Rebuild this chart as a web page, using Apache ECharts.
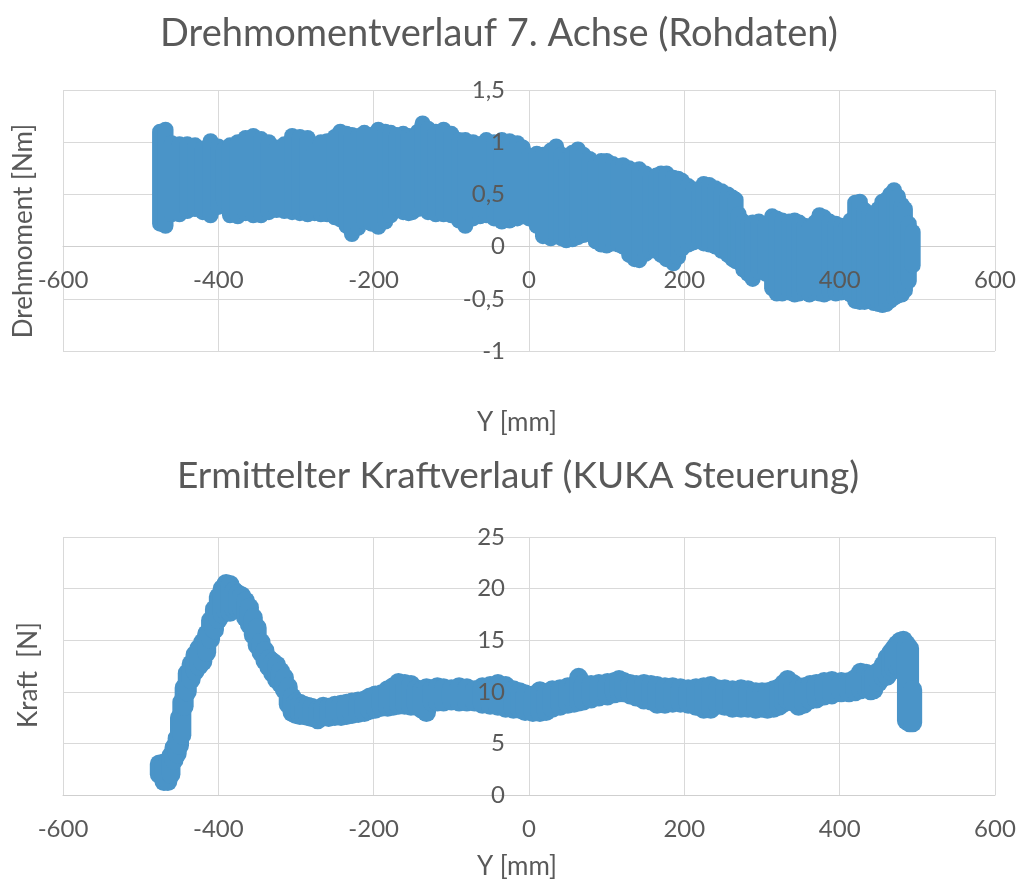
<!DOCTYPE html>
<html>
<head>
<meta charset="utf-8">
<script src="https://cdn.jsdelivr.net/npm/echarts@6/dist/echarts.min.js"></script>
<style>
html,body{margin:0;padding:0;background:#fff;}
#chart{width:1019px;height:882px;}
</style>
</head>
<body>
<div id="chart"></div>
<script>
// ---------- Data: Drehmomentverlauf 7. Achse (band of raw samples: low/high per Y position) ----------
var torqueY    = [-475,-468,-460,-450,-440,-430,-420,-410,-400,-393,-385,-375,-365,-355,-345,-335,-325,-315,-305,-295,-285,-276,-268,-260,-250,-243,-235,-228,-220,-212,-203,-194,-185,-178,-170,-162,-155,-150,-143,-137,-130,-120,-110,-100,-90,-82,-72,-63,-55,-45,-35,-25,-15,-8,0,10,18,28,35,42,48,56,63,70,78,86,93,100,108,115,121,129,136,142,150,156,164,170,177,186,192,197,205,212,219,225,232,240,248,256,262,266,270,276,282,288,296,305,313,319,326,335,342,348,355,361,368,374,380,387,395,402,408,414,420,426,432,438,444,450,455,460,465,470,475,480,484,489,494];
var torqueHigh = [1.10,1.12,0.99,0.98,0.98,0.97,0.94,1.01,0.96,0.93,0.97,1.00,1.04,1.06,1.03,1.00,0.95,0.98,1.06,1.05,1.04,0.91,1.00,1.01,1.05,1.10,1.08,1.07,1.06,1.09,1.07,1.12,1.10,1.09,1.07,1.08,1.06,1.04,1.10,1.18,1.13,1.10,1.12,1.08,1.02,1.02,1.00,0.98,1.02,1.00,1.02,1.01,0.99,0.95,0.87,0.89,0.88,0.92,0.96,0.88,0.83,0.90,0.93,0.88,0.84,0.80,0.82,0.82,0.79,0.77,0.78,0.75,0.73,0.74,0.70,0.67,0.68,0.70,0.70,0.66,0.65,0.63,0.58,0.55,0.54,0.60,0.59,0.56,0.53,0.50,0.47,0.45,0.31,0.24,0.22,0.23,0.24,0.22,0.29,0.27,0.25,0.24,0.25,0.23,0.20,0.18,0.23,0.30,0.28,0.24,0.22,0.20,0.18,0.25,0.42,0.43,0.35,0.32,0.30,0.36,0.43,0.45,0.50,0.54,0.48,0.40,0.36,0.22,0.14];
var torqueLow  = [0.22,0.20,0.31,0.31,0.34,0.36,0.33,0.30,0.38,0.44,0.30,0.29,0.32,0.30,0.30,0.33,0.35,0.34,0.33,0.32,0.31,0.32,0.31,0.31,0.28,0.26,0.20,0.12,0.18,0.24,0.22,0.19,0.24,0.30,0.37,0.33,0.32,0.33,0.36,0.37,0.33,0.31,0.31,0.30,0.25,0.20,0.27,0.29,0.30,0.27,0.24,0.25,0.27,0.29,0.27,0.20,0.10,0.08,0.10,0.08,0.06,0.07,0.09,0.11,0.12,0.05,0.02,0.01,0.03,0.02,0.00,-0.08,-0.12,-0.13,-0.07,-0.04,-0.04,-0.08,-0.12,-0.16,-0.10,-0.02,0.02,0.04,0.06,0.03,0.02,0.00,-0.04,-0.08,-0.12,-0.14,-0.15,-0.22,-0.26,-0.31,-0.24,-0.26,-0.40,-0.45,-0.45,-0.44,-0.46,-0.45,-0.43,-0.46,-0.44,-0.45,-0.46,-0.44,-0.45,-0.44,-0.40,-0.46,-0.52,-0.53,-0.53,-0.52,-0.54,-0.55,-0.56,-0.55,-0.52,-0.49,-0.47,-0.46,-0.42,-0.33,-0.18];

// ---------- Data: Ermittelter Kraftverlauf (KUKA Steuerung) ----------
var forceY    = [-476,-470,-465,-461,-457,-453,-450,-447,-444,-440,-435,-430,-425,-420,-415,-410,-405,-400,-395,-390,-385,-380,-375,-370,-365,-360,-355,-350,-345,-340,-335,-330,-325,-320,-315,-310,-305,-300,-295,-290,-285,-280,-272,-265,-258,-250,-242,-235,-228,-220,-212,-205,-198,-190,-182,-175,-168,-160,-152,-145,-138,-132,-125,-118,-110,-100,-90,-80,-70,-60,-50,-40,-30,-20,-12,-5,5,14,22,30,40,50,58,64,70,80,90,101,110,116,122,130,138,148,157,165,175,185,195,205,215,225,234,243,252,262,273,282,292,300,307,315,322,328,333,340,347,354,362,370,380,390,402,412,420,427,434,440,444,450,456,461,466,470,474,478,482,486,490,494];
var forceHigh = [3.0,3.1,3.3,3.8,4.6,5.5,7.5,9.0,10.4,11.8,12.7,13.6,14.2,14.8,15.6,16.9,18.0,19.2,20.0,20.5,20.4,19.8,19.5,19.3,18.8,18.2,17.2,16.2,14.8,14.0,13.2,12.9,12.6,12.0,11.4,10.5,9.5,9.0,8.9,8.7,8.6,8.5,8.3,8.6,8.5,8.7,8.8,8.9,9.0,9.1,9.2,9.5,9.7,9.8,10.2,10.5,10.9,10.8,10.7,10.3,10.2,10.4,10.3,10.5,10.4,10.3,10.5,10.4,10.2,10.5,10.6,10.8,10.6,10.2,10.0,9.8,9.7,10.1,9.9,10.2,10.3,10.5,10.6,11.4,10.8,10.7,10.8,10.9,11.0,11.2,11.0,10.8,10.7,10.8,10.7,10.6,10.5,10.5,10.4,10.3,10.4,10.5,10.6,10.3,10.3,10.2,10.3,10.2,10.0,10.0,10.0,10.2,10.4,10.8,11.2,10.8,10.5,10.5,10.7,10.8,11.0,11.1,11.0,11.0,11.3,11.9,11.8,11.6,11.7,12.0,12.6,13.3,13.8,14.2,14.6,14.9,15.0,14.6,14.2,10.2];
var forceLow  = [2.0,1.3,1.3,2.0,3.4,4.0,4.8,5.8,8.6,10.0,11.2,12.0,12.5,12.9,13.8,15.1,16.0,17.0,17.5,17.8,17.7,18.0,18.0,18.0,17.2,16.5,15.5,14.5,13.8,13.0,12.4,11.8,11.2,10.8,10.2,8.8,8.0,7.8,7.7,7.7,7.6,7.5,7.3,7.6,7.5,7.6,7.6,7.7,7.8,7.9,8.0,8.2,8.3,8.5,8.5,8.6,8.7,8.7,8.6,8.6,8.3,8.0,9.0,9.0,9.0,9.1,9.0,9.0,9.0,8.8,8.7,8.6,8.4,8.3,8.3,8.1,8.0,8.0,8.1,8.4,8.6,8.8,8.9,9.0,9.1,9.3,9.5,9.6,9.8,9.9,9.9,9.7,9.5,9.2,9.1,8.8,8.8,8.9,8.9,8.8,8.6,8.3,8.3,8.7,8.6,8.4,8.4,8.4,8.3,8.4,8.3,8.4,8.6,8.9,9.2,9.0,8.6,8.8,9.2,9.3,9.6,9.7,9.9,9.9,10.0,10.2,10.3,10.1,10.2,10.9,11.4,11.5,12.0,12.3,12.5,12.6,11.9,7.2,7.0,7.0];

var xTicks = [-600, 600, 200];   // min, max, interval of Y [mm]
var torqueTicks = [-1, 1.5, 0.5];
var forceTicks = [0, 25, 5];

var BLUE = '#4a94c8';
var GRID = '#d9d9d9';
var TEXT = '#595959';
var FONT = 'Lato, "Open Sans", sans-serif';

var G0 = { left: 63, top: 90, width: 932, height: 261 };
var G1 = { left: 63, top: 537, width: 932, height: 258 };

function band(xs, lo, hi) {
  return xs.map(function (x, i) { return [x, lo[i], hi[i]]; });
}
function bandRenderer(width) {
  return function (params, api) {
    var p1 = api.coord([api.value(0), api.value(1)]);
    var p2 = api.coord([api.value(0), api.value(2)]);
    return {
      type: 'line',
      shape: { x1: p1[0], y1: p1[1], x2: p2[0], y2: p2[1] },
      style: { stroke: BLUE, lineWidth: width, lineCap: 'round' }
    };
  };
}
function comma(v) { return String(v).replace('.', ','); }

// axes cross at zero (Excel style): shift axes from the grid edge to the zero position
function zeroShiftX(ticks, grid) { return -((0 - ticks[0]) / (ticks[1] - ticks[0])) * grid.height; }
function zeroShiftY(grid) { return -((0 - xTicks[0]) / (xTicks[1] - xTicks[0])) * grid.width; }

// grid-line axes (behind the data)
function xGridAxis(gridIndex, offset) {
  return {
    type: 'value', gridIndex: gridIndex, position: 'bottom', offset: offset, z: 0,
    min: xTicks[0], max: xTicks[1], interval: xTicks[2],
    axisLine: { show: true, onZero: false, lineStyle: { color: '#cfcfcf', width: 1 } },
    axisTick: { show: false },
    splitLine: { show: true, lineStyle: { color: GRID, width: 1 } },
    axisLabel: { show: false }
  };
}
function yGridAxis(gridIndex, ticks) {
  return {
    type: 'value', gridIndex: gridIndex, position: 'left', z: 0,
    min: ticks[0], max: ticks[1], interval: ticks[2],
    axisLine: { show: false, onZero: false },
    axisTick: { show: false },
    splitLine: { show: true, lineStyle: { color: GRID, width: 1 } },
    axisLabel: { show: false }
  };
}
// label axes (drawn above the data, like Excel)
function xLabelAxis(gridIndex, offset) {
  return {
    type: 'value', gridIndex: gridIndex, position: 'bottom', offset: offset, z: 10,
    min: xTicks[0], max: xTicks[1], interval: xTicks[2],
    axisLine: { show: false, onZero: false }, axisTick: { show: false }, splitLine: { show: false },
    axisLabel: { color: TEXT, fontFamily: FONT, fontSize: 24, margin: 22 }
  };
}
function yLabelAxis(gridIndex, ticks, offset) {
  return {
    type: 'value', gridIndex: gridIndex, position: 'left', offset: offset, z: 10,
    min: ticks[0], max: ticks[1], interval: ticks[2],
    axisLine: { show: false, onZero: false }, axisTick: { show: false }, splitLine: { show: false },
    axisLabel: { color: TEXT, fontFamily: FONT, fontSize: 24, margin: 24, formatter: comma }
  };
}

var chart = echarts.init(document.getElementById('chart'), null, { renderer: 'canvas' });
chart.setOption({
  backgroundColor: '#ffffff',
  animation: false,
  title: [
    { text: 'Drehmomentverlauf 7. Achse (Rohdaten)', left: 494, top: 10, textAlign: 'center',
      textStyle: { color: TEXT, fontFamily: FONT, fontSize: 38, fontWeight: 'normal' } },
    { text: 'Ermittelter Kraftverlauf (KUKA Steuerung)', left: 513, top: 453, textAlign: 'center',
      textStyle: { color: TEXT, fontFamily: FONT, fontSize: 37, fontWeight: 'normal' } }
  ],
  grid: [G0, G1],
  xAxis: [
    xGridAxis(0, zeroShiftX(torqueTicks, G0)), xGridAxis(1, zeroShiftX(forceTicks, G1)),
    xLabelAxis(0, zeroShiftX(torqueTicks, G0)), xLabelAxis(1, zeroShiftX(forceTicks, G1))
  ],
  yAxis: [
    yGridAxis(0, torqueTicks), yGridAxis(1, forceTicks),
    yLabelAxis(0, torqueTicks, zeroShiftY(G0)), yLabelAxis(1, forceTicks, zeroShiftY(G1))
  ],
  series: [
    { type: 'custom', name: 'Drehmoment', xAxisIndex: 0, yAxisIndex: 0, z: 2,
      renderItem: bandRenderer(16), encode: { x: 0, y: [1, 2] },
      data: band(torqueY, torqueLow, torqueHigh) },
    { type: 'custom', name: 'Kraft', xAxisIndex: 1, yAxisIndex: 1, z: 2,
      renderItem: bandRenderer(19), encode: { x: 0, y: [1, 2] },
      data: band(forceY, forceLow, forceHigh) }
  ],
  graphic: [
    { type: 'text', x: 517, y: 423, style: { text: 'Y [mm]', fill: TEXT, font: '26px ' + FONT, textAlign: 'center', textVerticalAlign: 'middle' } },
    { type: 'text', x: 517, y: 867, style: { text: 'Y [mm]', fill: TEXT, font: '26px ' + FONT, textAlign: 'center', textVerticalAlign: 'middle' } },
    { type: 'text', x: 24, y: 231, rotation: Math.PI / 2, style: { text: 'Drehmoment [Nm]', fill: TEXT, font: '26px ' + FONT, textAlign: 'center', textVerticalAlign: 'middle' } },
    { type: 'text', x: 29, y: 675, rotation: Math.PI / 2, style: { text: 'Kraft  [N]', fill: TEXT, font: '26px ' + FONT, textAlign: 'center', textVerticalAlign: 'middle' } }
  ]
});
</script>
</body>
</html>
